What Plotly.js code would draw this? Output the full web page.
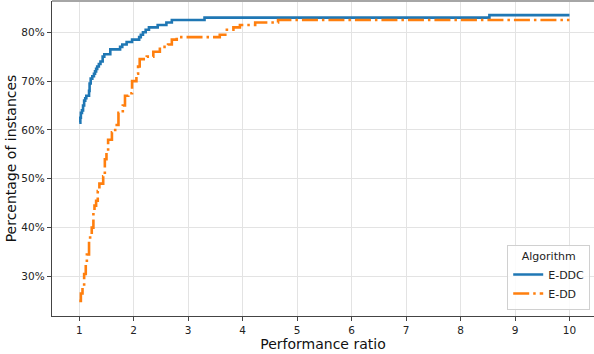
<!DOCTYPE html>
<html>
<head>
<meta charset="utf-8">
<script src="https://cdn.plot.ly/plotly-3.0.1.min.js"></script>
<style>html,body{margin:0;padding:0;background:#fff;}#chart{width:594px;height:354px;}</style>
</head>
<body>
<div id="chart"></div>
<script>
// E-DDC performance profile (step curve)
const ddcRatio = [1.00,1.02,1.03,1.05,1.07,1.09,1.11,1.13,1.18,1.19,1.21,1.24,1.27,1.29,1.31,1.33,1.36,1.39,1.43,1.46,1.57,1.75,1.79,1.87,1.97,2.10,2.13,2.17,2.22,2.28,2.44,2.60,2.70,3.30,8.53,10.0];
const ddcPct   = [61.5,62.5,63.5,64.0,65.0,66.0,66.5,67.0,68.0,69.5,70.5,71.0,71.5,72.0,72.5,73.0,73.5,74.0,75.0,75.5,76.5,77.0,77.5,78.0,78.5,79.0,79.5,80.0,80.5,81.0,81.5,82.0,82.5,83.0,83.5,83.5];
// E-DD performance profile (step curve)
const ddRatio = [1.00,1.03,1.06,1.09,1.12,1.14,1.18,1.20,1.23,1.26,1.28,1.31,1.34,1.37,1.44,1.47,1.50,1.53,1.60,1.66,1.72,1.80,1.84,1.90,1.97,2.05,2.08,2.11,2.24,2.36,2.48,2.63,2.70,2.79,3.34,3.58,3.71,3.83,3.95,4.23,4.65,10.0];
const ddPct   = [25.0,26.5,28.0,30.5,32.5,34.5,37.5,38.5,40.0,43.0,44.5,45.5,47.5,49.0,50.5,54.0,56.0,58.0,59.5,61.0,63.5,65.0,67.0,67.5,70.0,71.5,73.0,74.5,75.0,76.0,77.0,77.5,78.5,79.0,79.0,79.5,80.5,81.0,81.5,82.0,82.5,82.5];
const yTicks = [30,40,50,60,70,80];
const yTickText = ["30%","40%","50%","60%","70%","80%"];
const xTicks = [1,2,3,4,5,6,7,8,9,10];

const font = "DejaVu Sans, sans-serif";
const traces = [
  {x: ddcRatio, y: ddcPct, type: 'scatter', mode: 'lines', name: 'E-DDC',
   line: {color: '#1f77b4', width: 2.6, shape: 'hv'}},
  {x: ddRatio, y: ddPct, type: 'scatter', mode: 'lines', name: 'E-DD',
   line: {color: '#ff7f0e', width: 2.6, shape: 'hv', dash: '16px,4px,2.5px,4px'}}
];
const layout = {
  width: 594, height: 354,
  margin: {l: 52, r: 0, t: 1, b: 38},
  paper_bgcolor: '#fff', plot_bgcolor: '#fff',
  font: {family: font, size: 10.5, color: '#222'},
  showlegend: true,
  xaxis: {
    range: [0.5, 10.45], tickvals: xTicks, ticktext: xTicks.map(String),
    showgrid: true, gridcolor: '#e3e3e3', gridwidth: 1,
    zeroline: false, showline: true, linecolor: '#444', linewidth: 1.2,
    ticks: 'outside', ticklen: 4, tickcolor: '#444', tickwidth: 1,
    tickfont: {family: font, size: 10.5, color: '#222'},
    title: {text: 'Performance ratio', font: {family: font, size: 14, color: '#111'}, standoff: 2}
  },
  yaxis: {
    range: [21.9, 86.4], tickvals: yTicks, ticktext: yTickText,
    showgrid: true, gridcolor: '#e3e3e3', gridwidth: 1,
    zeroline: false, showline: true, linecolor: '#444', linewidth: 1.2,
    ticks: 'outside', ticklen: 4, tickcolor: '#444', tickwidth: 1,
    tickfont: {family: font, size: 10.5, color: '#222'},
    title: {text: 'Percentage of instances', font: {family: font, size: 14, color: '#111'}, standoff: 1}
  },
  legend: {
    x: 0.993, y: 0.02, xanchor: 'right', yanchor: 'bottom',
    bgcolor: 'rgba(255,255,255,0.85)', bordercolor: '#d0d0d0', borderwidth: 1,
    font: {family: font, size: 11, color: '#222'},
    title: {text: 'Algorithm', font: {family: font, size: 11, color: '#222'}, side: 'top center'},
    tracegroupgap: 0, itemwidth: 30
  },
  shapes: [
    {type: 'line', xref: 'paper', yref: 'paper', x0: 0, x1: 1, y0: 1, y1: 1,
     line: {color: '#a6a6a6', width: 2}}
  ]
};
Plotly.newPlot('chart', traces, layout, {displayModeBar: false, staticPlot: true});
</script>
</body>
</html>
